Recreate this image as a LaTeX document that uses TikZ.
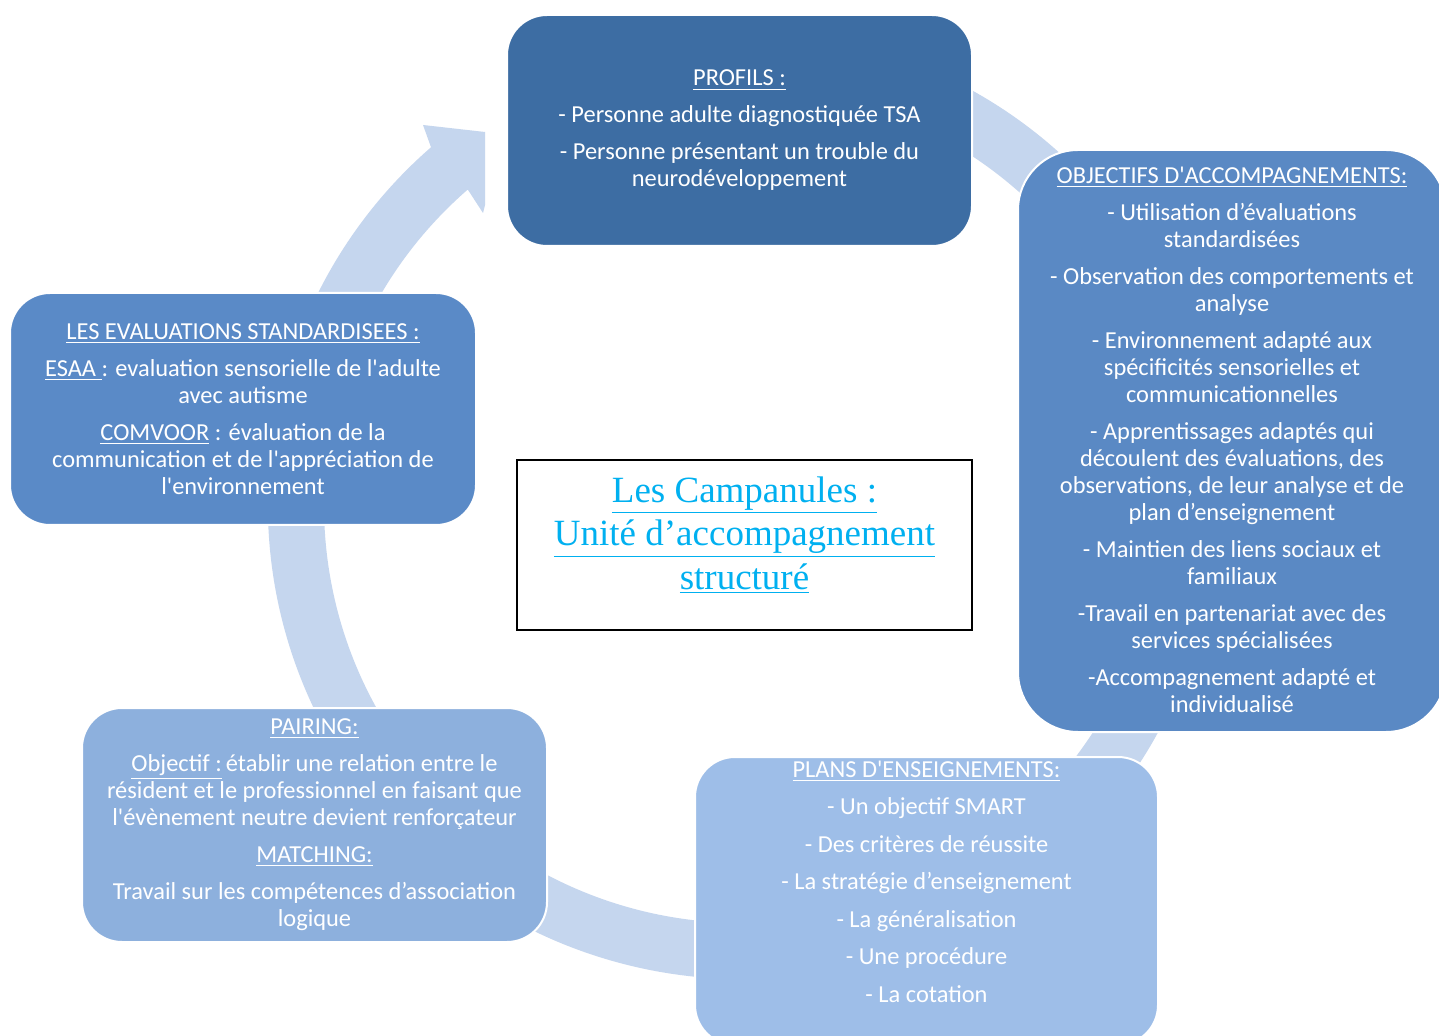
\documentclass[tikz,border=0pt]{standalone}
\usepackage{fontspec}
\setmainfont{Carlito}
\newfontfamily\titlefont{Liberation Serif}
\usepackage{xcolor}
\usepackage{tikz}
\usetikzlibrary{positioning,calc}
\definecolor{profil}{HTML}{3D6DA3}
\definecolor{objectif}{HTML}{5A89C4}
\definecolor{evalcol}{HTML}{5A8AC7}
\definecolor{pairing}{HTML}{8DB0DD}
\definecolor{plans}{HTML}{9EBEE8}
\definecolor{ringcol}{HTML}{C5D6EE}
\definecolor{titlecol}{HTML}{00B0F0}

\begin{document}
\begin{tikzpicture}[x=0.5pt,y=-0.5pt,
        card/.style={rounded corners=20pt, draw=white, line width=1pt, inner sep=0pt},
        cardtext/.style={align=center, text=white, inner sep=0pt, font=\fontsize{12.2}{13.5}\selectfont},
        ring/.style={fill=ringcol},
        titlebox/.style={draw=black, line width=0.8pt, fill=white, inner sep=0pt},
        titletext/.style={align=center, text=titlecol, inner sep=0pt, font=\titlefont\fontsize{18.5}{21.75}\selectfont}]
        \fill[white] (0,0) rectangle (1439,1036);
        \useasboundingbox (0,0) rectangle (1439,1036);

        \coordinate (ctr) at (742,505);
        \fill[ring] ($(ctr)+(75:237pt)$) arc[start angle=75, end angle=-229, radius=237pt]
                -- (423,125) -- (485,132) -- (485,205) -- (483,213)
                -- ($(ctr)+(-229:209pt)$) arc[start angle=-229, end angle=75, radius=209pt] -- cycle;

        \node[card, fill=profil, minimum width=232.5pt, minimum height=115.5pt] (profils) at (739.5,130.5) {};
        \node[cardtext] (profils text) at (profils.center) {\underline{PROFILS :}\\[5pt]
                - Personne adulte diagnostiquée TSA\\[5pt]
                - Personne présentant un trouble du\\ neurodéveloppement};

        \node[card, fill=objectif, rounded corners=30pt, minimum width=214pt, minimum height=291pt] (objectifs) at (1232,441) {};
        \node[cardtext] (objectifs text) at (1232,439.5) {\underline{OBJECTIFS D\textquotesingle ACCOMPAGNEMENTS:}\\[5pt]
                - Utilisation d’évaluations\\ standardisées\\[5pt]
                - Observation des comportements et\\ analyse\\[5pt]
                - Environnement adapté aux\\ spécificités sensorielles et\\ communicationnelles\\[5pt]
                - Apprentissages adaptés qui\\ découlent des évaluations, des\\ observations, de leur analyse et de\\ plan d’enseignement\\[5pt]
                - Maintien des liens sociaux et\\ familiaux\\[5pt]
                -Travail en partenariat avec des\\ services spécialisées\\[5pt]
                -Accompagnement adapté et\\ individualisé};

        \node[card, fill=evalcol, minimum width=233pt, minimum height=116pt] (evaluations) at (243,409) {};
        \node[cardtext] (evaluations text) at (evaluations.center) {\underline{LES EVALUATIONS STANDARDISEES :}\\[5pt]
                \underline{ESAA }: evaluation sensorielle de l\textquotesingle adulte\\ avec autisme\\[5pt]
                \underline{COMVOOR} : évaluation de la\\ communication et de l\textquotesingle appréciation de\\ l\textquotesingle environnement};

        \node[card, fill=pairing, minimum width=232.5pt, minimum height=117pt] (pairing) at (314.5,825) {};
        \node[cardtext] (pairing text) at (pairing.center) {\underline{PAIRING:}\\[5pt]
                \underline{Objectif :}\,établir une relation entre le\\ résident et le professionnel en faisant que\\ l\textquotesingle évènement neutre devient renforçateur\\[5pt]
                \underline{MATCHING:}\\[5pt]
                Travail sur les compétences d’association\\ logique};

        \node[card, fill=plans, minimum width=231.5pt, minimum height=144pt] (plans) at (926.5,901) {};
        \node[cardtext] (plans text) at (926.5,881.5) {\underline{PLANS D\textquotesingle ENSEIGNEMENTS:}\\[5.25pt]
                - Un objectif SMART\\[5.25pt]
                - Des critères de réussite\\[5.25pt]
                - La stratégie d’enseignement\\[5.25pt]
                - La généralisation\\[5.25pt]
                - Une procédure\\[5.25pt]
                - La cotation};

        \node[titlebox, minimum width=227.5pt, minimum height=85pt] (centre) at (744.5,545) {};
        \node[titletext] (titre) at (744.5,535) {\underline{Les Campanules :}\\ \underline{Unité d’accompagnement}\\ \underline{structuré}};
    \end{tikzpicture}
\end{document}
